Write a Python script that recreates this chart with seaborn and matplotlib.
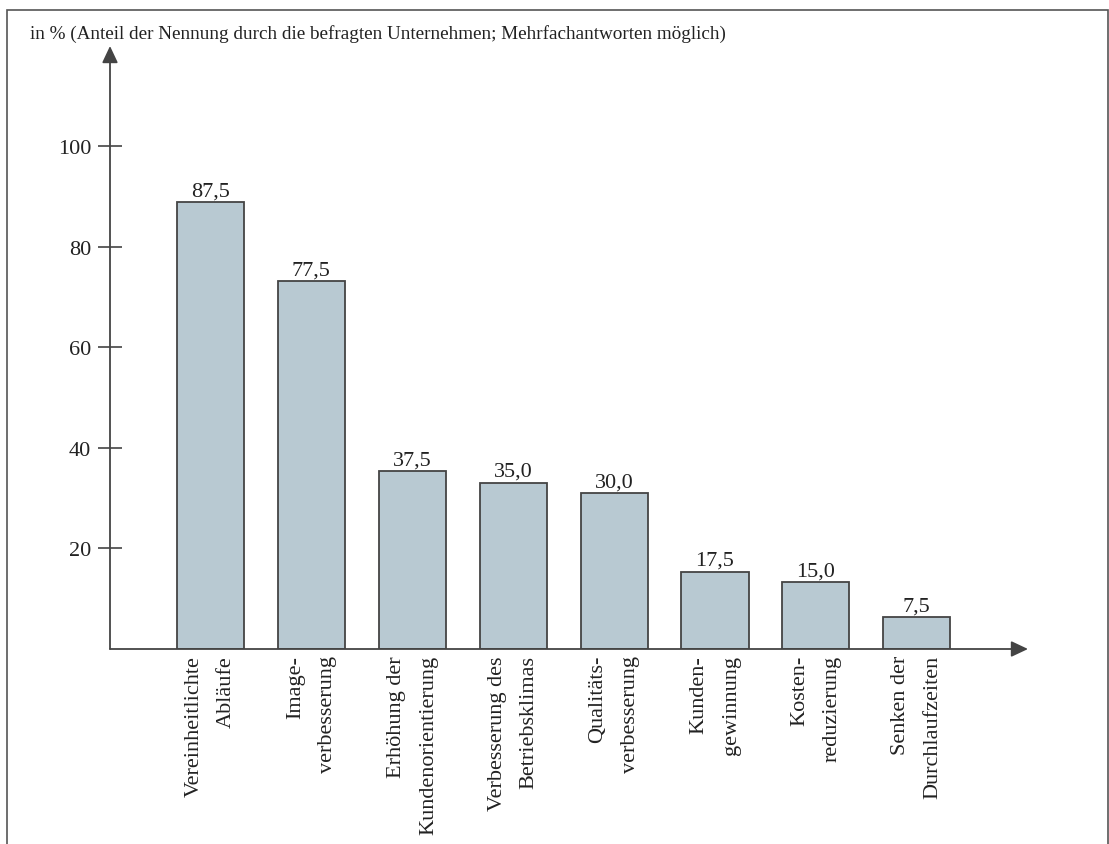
import matplotlib
matplotlib.use("Agg")
import matplotlib.pyplot as plt
import seaborn as sns
from matplotlib.patches import Rectangle

categories = [
    "Vereinheitlichte\nAbläufe",
    "Image-\nverbesserung",
    "Erhöhung der\nKundenorientierung",
    "Verbesserung des\nBetriebsklimas",
    "Qualitäts-\nverbesserung",
    "Kunden-\ngewinnung",
    "Kosten-\nreduzierung",
    "Senken der\nDurchlaufzeiten",
]
# bar heights as drawn in the reference
bar_heights = [88.9, 73.2, 35.4, 33.1, 31.0, 15.4, 13.3, 6.3]
# value labels as printed
value_labels = ["87,5", "77,5", "37,5", "35,0", "30,0", "17,5", "15,0", "7,5"]
y_ticks = [20, 40, 60, 80, 100]
title_text = "in % (Anteil der Nennung durch die befragten Unternehmen; Mehrfachantworten möglich)"

sns.set_theme(style="white")
plt.rcParams["font.family"] = ["Liberation Serif", "DejaVu Serif"]

W, H = 1109, 845
fig = plt.figure(figsize=(W / 100, H / 100), dpi=100)
fig.patch.set_facecolor("white")

# axes placement in pixels
x0_px, x1_px = 110, 1040
y0_px, y1_px = 650, 40
ax = fig.add_axes([x0_px / W, (H - y0_px) / H, (x1_px - x0_px) / W, (y0_px - y1_px) / H])

edge = "#444444"
sns.barplot(x=list(range(len(categories))), y=bar_heights, color="#b8c9d2",
            edgecolor=edge, linewidth=1.3, width=0.665, saturation=1, ax=ax)

px_per_cat = 100.9
xmin = -(210.5 - x0_px) / px_per_cat
xmax = xmin + (x1_px - x0_px) / px_per_cat
px_per_unit = 5.03
ymax = (y0_px - y1_px) / px_per_unit
ax.set_xlim(xmin, xmax)
ax.set_ylim(0, ymax)

for s in ax.spines.values():
    s.set_visible(False)

x_tip = xmin + (1028 - x0_px) / px_per_cat
y_tip = (y0_px - 47) / px_per_unit
astyle = "-|>,head_length=0.85,head_width=0.4"
ax.annotate("", xy=(xmin, y_tip), xytext=(xmin, 0),
            arrowprops=dict(arrowstyle=astyle, color=edge, lw=1.3, shrinkA=0, shrinkB=0))
ax.annotate("", xy=(x_tip, 0), xytext=(xmin, 0),
            arrowprops=dict(arrowstyle=astyle, color=edge, lw=1.3, shrinkA=0, shrinkB=0))

ax.set_yticks(y_ticks)
ax.set_yticklabels([str(t) for t in y_ticks], fontsize=16, color="#222222")
ax.tick_params(axis="y", direction="inout", length=17.3, width=1.2, color=edge, pad=5, left=True)

ax.set_xticks(range(len(categories)))
ax.set_xticklabels([])
ax.tick_params(axis="x", length=0)
ax.set_xlabel("")
ax.set_ylabel("")

for i, cat in enumerate(categories):
    ax.text(i, -1.2, cat, rotation=90, ha="center", va="top", ma="right",
            linespacing=1.95, fontsize=16, color="#222222", clip_on=False)

for i, (h, lab) in enumerate(zip(bar_heights, value_labels)):
    ax.text(i, h + 0.3, lab, ha="center", va="bottom", fontsize=16, color="#222222")

fig.text(30 / W, 1 - 34 / H, title_text, ha="left", va="center", fontsize=13.8, color="#222222")

fig.patches.append(Rectangle((7 / W, -0.01), (1108 - 7) / W, (H - 11) / H + 0.01,
                             transform=fig.transFigure, fill=False, edgecolor="#555555", lw=1.2))

fig.savefig("out.png", dpi=100, facecolor="white")
